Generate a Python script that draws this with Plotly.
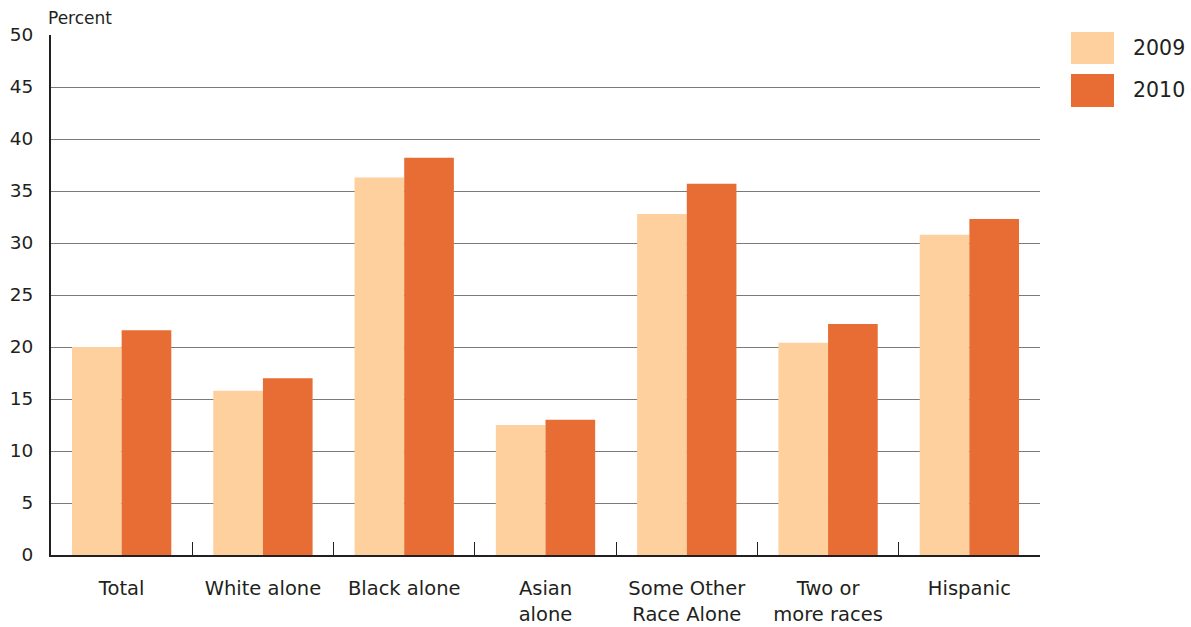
import plotly.graph_objects as go

categories = ["Total", "White alone", "Black alone", "Asian<br>alone",
              "Some Other<br>Race Alone", "Two or<br>more races", "Hispanic"]
years = ["2009", "2010"]
values_2009 = [20.0, 15.8, 36.3, 12.5, 32.8, 20.4, 30.8]
values_2010 = [21.6, 17.0, 38.2, 13.0, 35.7, 22.2, 32.3]
y_ticks = [0, 5, 10, 15, 20, 25, 30, 35, 40, 45, 50]

colors = {"2009": "#FDD09E", "2010": "#E86D34"}
FONT = "DejaVu Sans"
TEXT = "#231F20"

fig = go.Figure()
for yr, vals in zip(years, [values_2009, values_2010]):
    fig.add_trace(go.Bar(x=categories, y=vals, name=yr,
                         marker=dict(color=colors[yr], line=dict(width=0)),
                         showlegend=False))

W, H = 1191, 627
L, R, T, B = 51, 151, 35, 72
pw, ph = W - L - R, H - T - B

def px_x(x):
    return (x - L) / pw

def px_y(y):
    return (H - B - y) / ph

# legend drawn as swatches + labels to the right of the plot
legend_rows = [("2009", 32, 64), ("2010", 74, 107)]
for yr, top, bot in legend_rows:
    fig.add_shape(type="rect", xref="paper", yref="paper",
                  x0=px_x(1071), x1=px_x(1114), y0=px_y(bot), y1=px_y(top),
                  fillcolor=colors[yr], line=dict(width=0))
    fig.add_annotation(xref="paper", yref="paper", x=px_x(1131), y=px_y((top + bot) / 2),
                       text=yr, showarrow=False, xanchor="left", yanchor="middle",
                       font=dict(family=FONT, size=20.5, color=TEXT))

fig.add_annotation(xref="paper", yref="paper", x=px_x(46), y=px_y(18),
                   text="Percent", showarrow=False, xanchor="left", yanchor="middle",
                   font=dict(family=FONT, size=17, color=TEXT))

fig.update_layout(
    width=W, height=H,
    margin=dict(l=L, r=R, t=T, b=B, pad=0, autoexpand=False),
    paper_bgcolor="white", plot_bgcolor="white",
    barmode="group", bargap=0.297, bargroupgap=0,
    font=dict(family=FONT, color=TEXT),
)
fig.update_xaxes(
    automargin=False,
    showline=True, linecolor="#231F20", linewidth=2,
    ticks="inside", tickson="boundaries", ticklen=13, tickcolor="#231F20", tickwidth=1.3,
    tickfont=dict(family=FONT, size=19.5, color=TEXT),
    ticklabelstandoff=15, showgrid=False, fixedrange=True,
)
fig.update_yaxes(
    automargin=False,
    range=[0, 50], tickvals=y_ticks, ticktext=[str(v) for v in y_ticks],
    showline=True, linecolor="#231F20", linewidth=2,
    showgrid=True, gridcolor="#7A7A7A", gridwidth=1.4,
    ticks="", tickfont=dict(family=FONT, size=18.5, color=TEXT),
    ticklabelstandoff=12, zeroline=False, fixedrange=True,
)

fig.write_html("out.html")
